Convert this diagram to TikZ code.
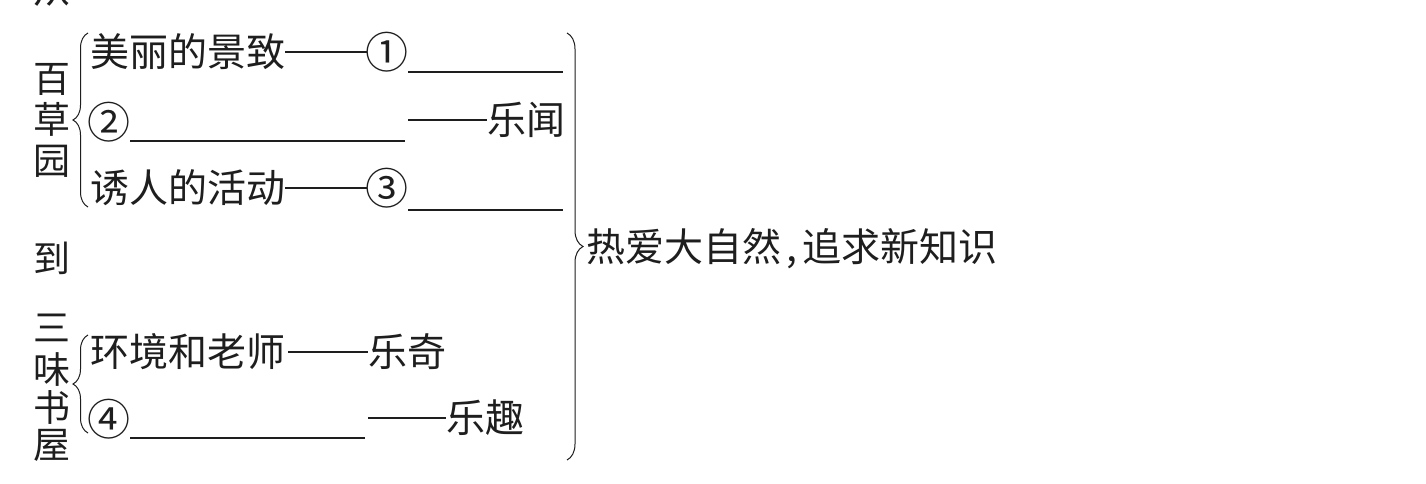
\documentclass[tikz,border=0pt]{standalone}
\usepackage{fontspec}
\newfontfamily\cjk{Noto Sans CJK SC}
\usetikzlibrary{decorations.pathreplacing}
\definecolor{ink}{HTML}{1E1E1E}
\tikzset{
  txt/.style={inner sep=0pt, text height=34.3pt, text depth=4.7pt, font=\cjk\fontsize{39}{40}\selectfont, text=ink},
  circ/.style={inner sep=0pt, text height=37.8pt, text depth=5.2pt, font=\cjk\fontsize{43}{44}\selectfont, text=ink, anchor=center},
  vch/.style={inner sep=0pt, text height=32.5pt, text depth=4.5pt, font=\cjk\fontsize{37}{38}\selectfont, text=ink, anchor=center},
  conn/.style={draw=ink, line width=1.1pt},
  blank/.style={draw=ink, line width=1.1pt},
  bracestyle/.style={draw=ink, line width=1pt, decorate, decoration={brace, amplitude=#1}}
}
\begin{document}
\begin{tikzpicture}[x=1pt,y=-1pt]
\useasboundingbox (0,0) rectangle (1426,484);
\fill[white] (0,0) rectangle (1426,484);
\clip (0,0) rectangle (1426,484);
% vertical title
\node[vch] (v0) at (52,-10) {从};
\node[vch] (v1) at (52,79) {百};
\node[vch] (v2) at (52,120) {草};
\node[vch] (v3) at (52,160) {园};
\node[vch] (v4) at (52,258) {到};
\node[vch] (v5) at (52,327) {三};
\node[vch] (v6) at (52,369) {味};
\node[vch] (v7) at (52,407) {书};
\node[vch] (v8) at (52,444) {屋};
% braces
\draw[bracestyle=15pt] (88,207) -- (88,33);
\draw[bracestyle=15pt] (88,433) -- (88,335);
\draw[bracestyle=16pt] (567,33) -- (567,460);
% row 1
\node[txt, anchor=west] (t1) at (90,52) {美丽的景致};
\node[circ] (c1) at (387,52) {①};
\draw[conn] (t1.east) -- ([xshift=2pt]c1.west);
\coordinate (b1s) at (408,72); \coordinate (b1e) at (563,72);
\draw[blank] (b1s) -- (b1e);
% row 2
\node[circ] (c2) at (109,122) {②};
\coordinate (b2s) at (130,141); \coordinate (b2e) at (405,141);
\draw[blank] (b2s) -- (b2e);
\node[txt, anchor=west] (w2) at (487,120) {乐闻};
\coordinate (d2s) at (408,120);
\draw[conn] (d2s) -- (w2.west);
% row 3
\node[txt, anchor=west] (t3) at (90,188) {诱人的活动};
\node[circ] (c3) at (387,188) {③};
\draw[conn] (t3.east) -- ([xshift=2pt]c3.west);
\coordinate (b3s) at (408,210); \coordinate (b3e) at (563,210);
\draw[blank] (b3s) -- (b3e);
% summary
\node[txt, anchor=west] (r) at (586,247) {热爱大自然\hspace{5pt},\hspace{5pt}追求新知识};
% row 4
\node[txt, anchor=west] (t4) at (90,352) {环境和老师};
\node[txt, anchor=west] (q4) at (368,352) {乐奇};
\draw[conn] ([xshift=3pt]t4.east) -- (q4.west);
% row 5
\node[circ] (c4) at (109,419) {④};
\coordinate (b4s) at (130,438); \coordinate (b4e) at (365,438);
\draw[blank] (b4s) -- (b4e);
\node[txt, anchor=west] (q5) at (446,418) {乐趣};
\coordinate (d5s) at (368,418);
\draw[conn] (d5s) -- (q5.west);
\end{tikzpicture}
\end{document}
